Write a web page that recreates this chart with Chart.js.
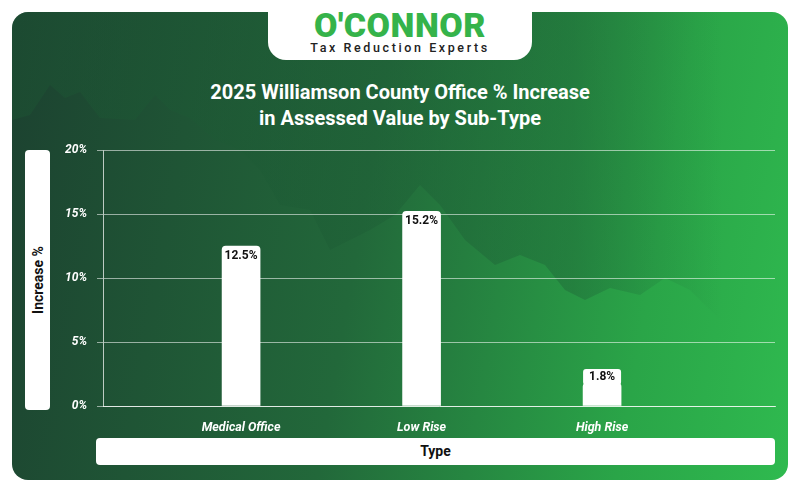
<!DOCTYPE html>
<html><head><meta charset="utf-8">
<script src="https://cdn.jsdelivr.net/npm/chart.js@4"></script>
<style>
body{margin:0;width:800px;height:492px;background:#fff;font-family:Roboto,sans-serif;overflow:hidden}
#card{position:absolute;left:12px;top:12px;width:776px;height:468px;border-radius:16px;overflow:hidden;
background:linear-gradient(100deg,#1c4130 0%,#22683a 45%,#2aa548 80%,#2fba4f 100%)}
#mtn{position:absolute;left:-12px;top:-12px}
#tab{position:absolute;left:268px;top:0;width:264px;height:60px;background:#fff;border-radius:0 0 18px 18px}
#logo{position:absolute;left:0;width:800px;top:5px;text-align:center;font:900 34px Roboto,sans-serif;color:#35b34a;letter-spacing:0.5px}
#tag{position:absolute;left:0;width:800px;top:40px;text-align:center;font:500 12.5px Roboto,sans-serif;color:#222;letter-spacing:2.6px}
#title{position:absolute;left:0;width:800px;top:79px;text-align:center;font:700 20px Roboto,sans-serif;color:#fff;line-height:26px}
#ybox{position:absolute;left:25px;top:150px;width:25px;height:260px;background:#fff;border-radius:4px}
#ylab{position:absolute;left:38px;top:280px;transform:translate(-50%,-50%) rotate(-90deg);font:700 14px Roboto,sans-serif;color:#111;white-space:nowrap}
#xbox{position:absolute;left:96px;top:438px;width:679px;height:27px;background:#fff;border-radius:4px;text-align:center;font:700 14px Roboto,sans-serif;line-height:27px;color:#111}
canvas{position:absolute;left:0;top:0}
</style></head><body>
<div id="card">
<svg id="mtn" width="800" height="492">
<defs><linearGradient id="fd" x1="0" x2="1"><stop offset="0.75" stop-color="#1c5a34" stop-opacity="0.35"/><stop offset="0.95" stop-color="#1c5a34" stop-opacity="0"/></linearGradient></defs>
<path d="M12 120 L30 115 L50 85 L65 98 L80 92 L100 118 L135 120 L155 95 L170 110 L190 118 L215 140 L240 150 L260 170 L280 205 L310 210 L330 250 L350 240 L370 230 L395 215 L420 185 L440 205 L465 240 L495 265 L520 255 L545 265 L565 290 L585 300 L610 288 L640 295 L665 278 L690 290 L720 320 L760 360 L760 0 L12 0 Z" fill="url(#fd)"/>
</svg>
</div>
<div id="tab"></div>
<div id="logo">O'CONNOR</div>
<div id="tag">Tax Reduction Experts</div>
<div id="title">2025 Williamson County Office % Increase<br>in Assessed Value by Sub-Type</div>
<div id="ybox"></div><div id="ylab">Increase %</div>
<div id="xbox">Type</div>
<canvas id="c" width="800" height="492"></canvas>
<script>
const categories=['Medical Office','Low Rise','High Rise'];
const values=[12.5,15.2,1.8];
const yTicks=[0,5,10,15,20];
const pts=values.map((v,i)=>({x:i+1,y:v}));
const labelPlugin={id:'lbl',afterDatasetsDraw(ch){
 const ctx=ch.ctx;const m=ch.getDatasetMeta(0);
 ctx.save();ctx.font='700 12px Roboto';ctx.textAlign='center';ctx.textBaseline='middle';
 m.data.forEach((b,i)=>{const t=values[i].toFixed(1)+'%';
  if(values[i]<3){ctx.fillStyle='#fff';ctx.beginPath();ctx.roundRect(b.x-19,b.y-14,38,16,3);ctx.fill();}
  ctx.fillStyle='#111';ctx.fillText(t,b.x,values[i]<3?b.y-6:b.y+10);});
 ctx.restore();}};
new Chart(document.getElementById('c'),{type:'bar',
data:{datasets:[{data:pts,backgroundColor:'#fff',barThickness:38,borderRadius:{topLeft:4,topRight:4},borderSkipped:'bottom'}]},
options:{responsive:false,animation:false,events:[],
layout:{padding:{left:0,right:25,top:150,bottom:56}},
plugins:{legend:{display:false},tooltip:{enabled:false}},
scales:{
 x:{type:'linear',offset:false,min:0.235,max:3.958,afterBuildTicks(s){s.ticks=categories.map((c,i)=>({value:i+1}));},
   afterFit(s){s.height=30;},
   ticks:{color:'#fff',padding:6,font:{family:'Roboto',style:'italic',weight:'700',size:12.5},callback:(v)=>categories[v-1]||''},
   grid:{display:false},border:{color:'rgba(255,255,255,0.7)'}},
 y:{min:0,max:20,afterBuildTicks(s){s.ticks=yTicks.map(v=>({value:v}));},afterFit(s){s.width=103;},
   ticks:{color:'#fff',padding:10,font:{family:'Roboto',style:'italic',weight:'700',size:12},callback:v=>v+'%'},
   grid:{color:'rgba(255,255,255,0.55)',tickLength:6},border:{color:'rgba(255,255,255,0.7)'}}
}},plugins:[labelPlugin]});
</script>
</body></html>
